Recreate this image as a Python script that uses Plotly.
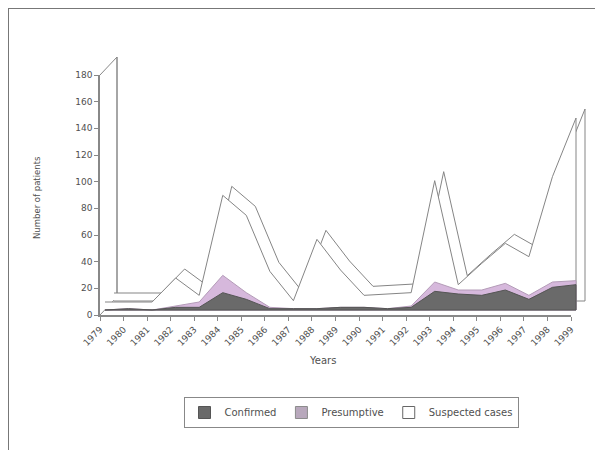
import plotly.graph_objects as go

# ---- data ----
years = list(range(1979, 2000))
confirmed = [0, 1, 0, 2, 2, 13, 8, 1, 1, 1, 2, 2, 1, 2, 14, 12, 11, 15, 8, 17, 19]
presumptive = [0, 0, 0, 1, 4, 13, 5, 1, 0, 0, 0, 0, 0, 1, 7, 3, 4, 5, 3, 4, 3]
suspected = [6, 5, 6, 21, 5, 60, 58, 27, 6, 52, 28, 9, 11, 10, 76, 4, 20, 30, 29, 79, 122]
y_ticks = [0, 20, 40, 60, 80, 100, 120, 140, 160, 180]
x_labels = [str(y) for y in years]

W, H = 603, 458
BODY = 8  # page offset of the figure inside the html body
# plot-area box in page pixels
PL, PR, PT, PB = 96, 594, 52, 320
pw, ph = PR - PL, PB - PT


def xd(px):
    return (px - PL) / pw


def yd(py):
    return (PB - py) / ph


# front axis geometry (page pixels)
AX0, AX1 = 100, 571      # 1979 .. 1999
AY0, AY1 = 315, 75       # 0 .. 180
YMAX = 180


def X(v):
    return AX0 + (v - years[0]) * (AX1 - AX0) / (years[-1] - years[0])


def Y(v):
    return AY0 - v * (AY0 - AY1) / YMAX


cp = [c + p for c, p in zip(confirmed, presumptive)]
tot = [a + s for a, s in zip(cp, suspected)]
xs_poly = years + [years[-1], years[0]]

LINE = "#858585"
C_FILL, C_LINE = "#6a6a6a", "#555555"
P_FILL, P_LINE = "#d6b8dc", "#b49cb8"
FAM = "DejaVu Sans, Verdana, sans-serif"
TXT = "#505050"

fig = go.Figure()

# invisible carrier so the front (labelled) axes are drawn
fig.add_trace(go.Scatter(x=years, y=tot, mode="lines", line=dict(width=0, color="rgba(0,0,0,0)"),
                         showlegend=False, hoverinfo="skip", xaxis="x", yaxis="y"))
# legend entries (square swatches), placed outside their hidden axis range
for nm, fc, lc, rk in [("Confirmed", C_FILL, C_LINE, 1), ("Presumptive", "#b8a8bc", "#8c8c8c", 2),
                       ("Suspected cases", "white", "#666", 3)]:
    fig.add_trace(go.Bar(x=[0], y=[1], name=nm, legendrank=rk, hoverinfo="skip",
                         marker=dict(color=fc, line=dict(color=lc, width=1)),
                         xaxis="x4", yaxis="y4"))

# back edge of the 3-D slab (axis 2)
fig.add_trace(go.Scatter(x=xs_poly, y=tot + [0, 0], fill="toself", fillcolor="white",
                         mode="lines", line=dict(color=LINE, width=1),
                         showlegend=False, hoverinfo="skip", xaxis="x2", yaxis="y2"))
# front face (axis 3)
fig.add_trace(go.Scatter(x=xs_poly, y=tot + [0, 0], fill="toself", fillcolor="white",
                         mode="lines", line=dict(color=LINE, width=1),
                         showlegend=False, xaxis="x3", yaxis="y3"))
fig.add_trace(go.Scatter(x=xs_poly, y=cp + [0, 0], fill="toself", fillcolor=P_FILL,
                         mode="lines", line=dict(color=P_LINE, width=1),
                         showlegend=False, xaxis="x3", yaxis="y3"))
fig.add_trace(go.Scatter(x=xs_poly, y=confirmed + [0, 0], fill="toself", fillcolor=C_FILL,
                         mode="lines", line=dict(color=C_LINE, width=1),
                         showlegend=False, xaxis="x3", yaxis="y3"))


def offset_axes(dx, dy):
    x0, x1 = years[0] - 0.2, years[-1] + 0.2
    y0, y1 = -3, YMAX + 2
    xa = dict(domain=[xd(X(x0) + dx), xd(X(x1) + dx)], range=[x0, x1], visible=False,
              fixedrange=True)
    ya = dict(domain=[yd(Y(y0) - dy), yd(Y(y1) - dy)], range=[y0, y1], visible=False,
              fixedrange=True)
    return xa, ya


xa2, ya2 = offset_axes(14, 14)
xa3, ya3 = offset_axes(5, 5)
xa2["anchor"] = "y2"; ya2["anchor"] = "x2"
xa3["anchor"] = "y3"; ya3["anchor"] = "x3"

fig.update_layout(
    width=W, height=H,
    margin=dict(l=PL - BODY, r=W - (PR - BODY), t=PT - BODY, b=H - (PB - BODY), pad=0,
                autoexpand=False),
    paper_bgcolor="white", plot_bgcolor="rgba(0,0,0,0)",
    font=dict(family=FAM, size=9, color=TXT),
    xaxis=dict(domain=[xd(AX0), xd(AX1)], range=[years[0], years[-1]], anchor="y",
               tickmode="array", tickvals=years, ticktext=x_labels, tickangle=-45,
               ticks="outside", ticklen=4, tickcolor="#888", showline=True,
               linecolor="#888", linewidth=1.5, showgrid=False, zeroline=False,
               automargin=False, fixedrange=True, tickfont=dict(family=FAM, size=9, color=TXT)),
    yaxis=dict(domain=[yd(AY0), yd(AY1)], range=[0, YMAX], anchor="x",
               tickmode="array", tickvals=y_ticks, ticks="outside", ticklen=4,
               tickcolor="#888", showline=True, linecolor="#888", linewidth=1.5,
               showgrid=False, zeroline=False, automargin=False, fixedrange=True,
               tickfont=dict(family=FAM, size=9, color=TXT)),
    xaxis2=xa2, yaxis2=ya2, xaxis3=xa3, yaxis3=ya3,
    xaxis4=dict(domain=[0, 0.1], range=[5, 6], visible=False, anchor="y4", fixedrange=True),
    yaxis4=dict(domain=[0, 0.1], range=[5, 6], visible=False, anchor="x4", fixedrange=True),
    showlegend=True,
    legend=dict(orientation="h", x=xd(351), xanchor="center", y=yd(397), yanchor="top",
                bordercolor="#888", borderwidth=1, bgcolor="white",
                font=dict(family=FAM, size=10, color=TXT), traceorder="normal",
                itemwidth=30),
    annotations=[
        dict(text="Number of patients", xref="paper", yref="paper", x=xd(30), y=yd(198),
             textangle=-90, showarrow=False, font=dict(family=FAM, size=8.5, color=TXT)),
        dict(text="Years", xref="paper", yref="paper", x=xd(322), y=yd(368),
             showarrow=False, font=dict(family=FAM, size=10, color=TXT)),
    ],
    shapes=[
        # left wall edge and depth diagonals
        dict(type="line", xref="paper", yref="paper", x0=xd(117), y0=yd(297), x1=xd(117),
             y1=yd(57), line=dict(color="#888", width=1.5), layer="below"),
        dict(type="line", xref="paper", yref="paper", x0=xd(100), y0=yd(315), x1=xd(117),
             y1=yd(297), line=dict(color="#888", width=1), layer="below"),
        dict(type="line", xref="paper", yref="paper", x0=xd(100), y0=yd(75), x1=xd(117),
             y1=yd(57), line=dict(color="#888", width=1), layer="below"),
        # outer frame
        dict(type="line", xref="paper", yref="paper", x0=xd(8), y0=yd(8.5), x1=xd(598),
             y1=yd(8.5), line=dict(color="#777", width=1)),
        dict(type="line", xref="paper", yref="paper", x0=xd(8.5), y0=yd(8), x1=xd(8.5),
             y1=yd(450), line=dict(color="#777", width=1)),
        dict(type="line", xref="paper", yref="paper", x0=xd(598), y0=yd(8), x1=xd(598),
             y1=yd(450), line=dict(color="#777", width=1)),
    ],
)

fig.write_html("out.html")
